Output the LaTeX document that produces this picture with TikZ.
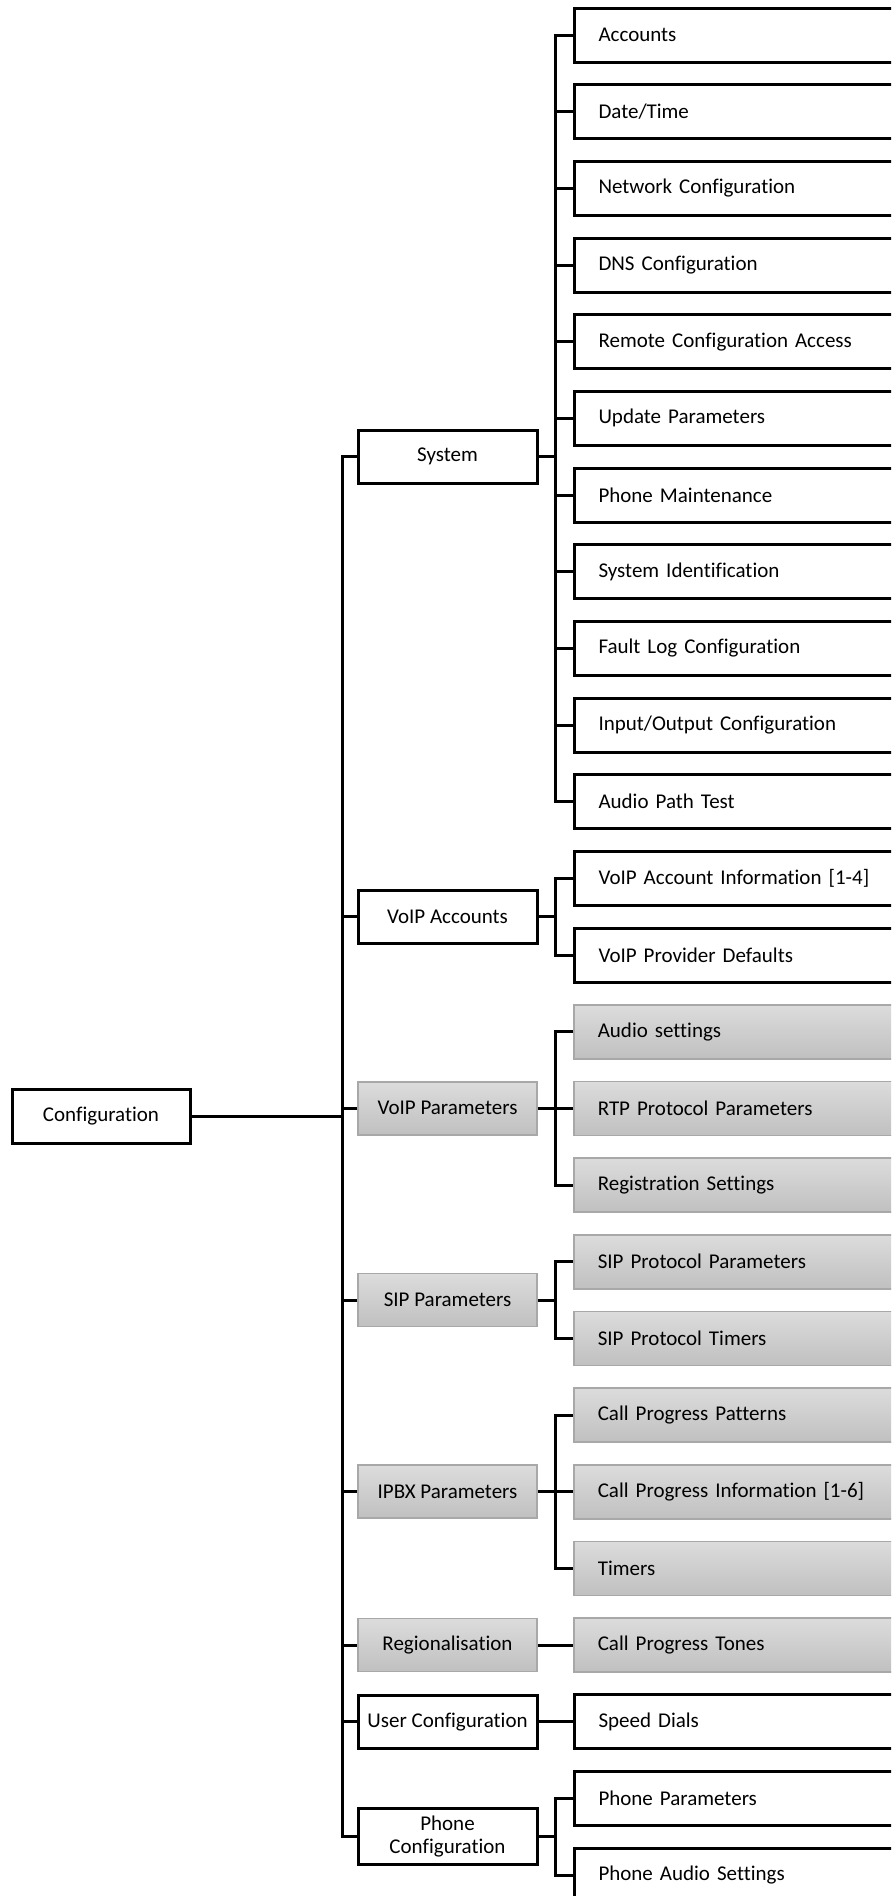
\documentclass[tikz,border=0pt]{standalone}
\usepackage{fontspec}
\setmainfont{Carlito}[Ligatures={NoCommon,NoRare}]
\definecolor{gtop}{HTML}{DCDCDC}
\definecolor{gbot}{HTML}{C0C0C0}
\definecolor{gline}{HTML}{A8A8A8}
\tikzset{
  box/.style={draw=black, line width=1.5pt, fill=white, rectangle, inner sep=0pt,
    font=\fontsize{10.5pt}{11.5pt}\selectfont, text=black},
  midbox/.style={box, minimum width=89.5pt, minimum height=26.5pt, align=center},
  leafbox/.style={box, anchor=west, minimum height=27pt, text width=200pt, inner xsep=12pt, align=left},
  grayfill/.style={draw=gline, line width=0.8pt, top color=gtop, bottom color=gbot},
  conn/.style={draw=black, line width=1.5pt},
}
\begin{document}
\begin{tikzpicture}[x=0.5pt,y=-0.5pt]
\clip (0,0) rectangle (891,1896);
\fill[white] (0,0) rectangle (891,1896);

% root
\node[box, minimum width=89pt, minimum height=27pt] (conf) at (101,1116) {Configuration};

% middle column
\node[midbox] (sys) at (447.5,456.7) {System};
\node[midbox] (vacc) at (447.5,916.7) {VoIP Accounts};
\node[midbox, grayfill] (vpar) at (447.5,1108.3) {VoIP Parameters};
\node[midbox, grayfill] (sip) at (447.5,1300) {SIP Parameters};
\node[midbox, grayfill] (ipbx) at (447.5,1491.7) {IPBX Parameters};
\node[midbox, grayfill] (reg) at (447.5,1645) {Regionalisation};
\node[midbox] (user) at (447.5,1721.7) {User Configuration};
\node[midbox, minimum height=28pt] (phone) at (447.5,1836.7) {Phone\\Configuration};

% leaves
\node[leafbox] (a0) at (573,35) {Accounts};
\node[leafbox] (a1) at (573,111.7) {Date/Time};
\node[leafbox] (a2) at (573,188.3) {Network Configuration};
\node[leafbox] (a3) at (573,265) {DNS Configuration};
\node[leafbox] (a4) at (573,341.7) {Remote Configuration Access};
\node[leafbox] (a5) at (573,418.3) {Update Parameters};
\node[leafbox] (a6) at (573,495) {Phone Maintenance};
\node[leafbox] (a7) at (573,571.7) {System Identification};
\node[leafbox] (a8) at (573,648.3) {Fault Log Configuration};
\node[leafbox] (a9) at (573,725) {Input/Output Configuration};
\node[leafbox] (a10) at (573,801.7) {Audio Path Test};
\node[leafbox] (b0) at (573,878.3) {VoIP Account Information [1-4]};
\node[leafbox] (b1) at (573,955) {VoIP Provider Defaults};
\node[leafbox, grayfill] (c0) at (573,1031.7) {Audio settings};
\node[leafbox, grayfill] (c1) at (573,1108.3) {RTP Protocol Parameters};
\node[leafbox, grayfill] (c2) at (573,1185) {Registration Settings};
\node[leafbox, grayfill] (d0) at (573,1261.7) {SIP Protocol Parameters};
\node[leafbox, grayfill] (d1) at (573,1338.3) {SIP Protocol Timers};
\node[leafbox, grayfill] (e0) at (573,1415) {Call Progress Patterns};
\node[leafbox, grayfill] (e1) at (573,1491.7) {Call Progress Information [1-6]};
\node[leafbox, grayfill] (e2) at (573,1568.3) {Timers};
\node[leafbox, grayfill] (f0) at (573,1645) {Call Progress Tones};
\node[leafbox] (g0) at (573,1721.7) {Speed Dials};
\node[leafbox] (h0) at (573,1798.3) {Phone Parameters};
\node[leafbox] (h1) at (573,1875) {Phone Audio Settings};

% bus coordinates
\coordinate (L) at (342,1116);
\coordinate (bS) at (555,456.7);
\coordinate (bA) at (555,916.7);
\coordinate (bV) at (555,1108.3);
\coordinate (bP) at (555,1300);
\coordinate (bI) at (555,1491.7);
\coordinate (bH) at (555,1836.7);

% left bus
\draw[conn] (conf.east) -- (L);
\draw[conn] (sys.west) -| (L) |- (phone.west);
\foreach \n in {vacc,vpar,sip,ipbx,reg,user}
  \draw[conn] (L |- \n.west) -- (\n.west);

% System group
\draw[conn] (sys.east) -- (bS);
\draw[conn] (a0.west) -| (bS) |- (a10.west);
\foreach \n in {a1,a2,a3,a4,a5,a6,a7,a8,a9}
  \draw[conn] (bS |- \n.west) -- (\n.west);

% VoIP Accounts
\draw[conn] (vacc.east) -- (bA);
\draw[conn] (b0.west) -| (bA) |- (b1.west);

% VoIP Parameters
\draw[conn] (vpar.east) -- (c1.west);
\draw[conn] (c0.west) -| (bV) |- (c2.west);

% SIP
\draw[conn] (sip.east) -- (bP);
\draw[conn] (d0.west) -| (bP) |- (d1.west);

% IPBX
\draw[conn] (ipbx.east) -- (e1.west);
\draw[conn] (e0.west) -| (bI) |- (e2.west);

% single
\draw[conn] (reg.east) -- (f0.west);
\draw[conn] (user.east) -- (g0.west);

% Phone
\draw[conn] (phone.east) -- (bH);
\draw[conn] (h0.west) -| (bH) |- (h1.west);
\end{tikzpicture}
\end{document}
